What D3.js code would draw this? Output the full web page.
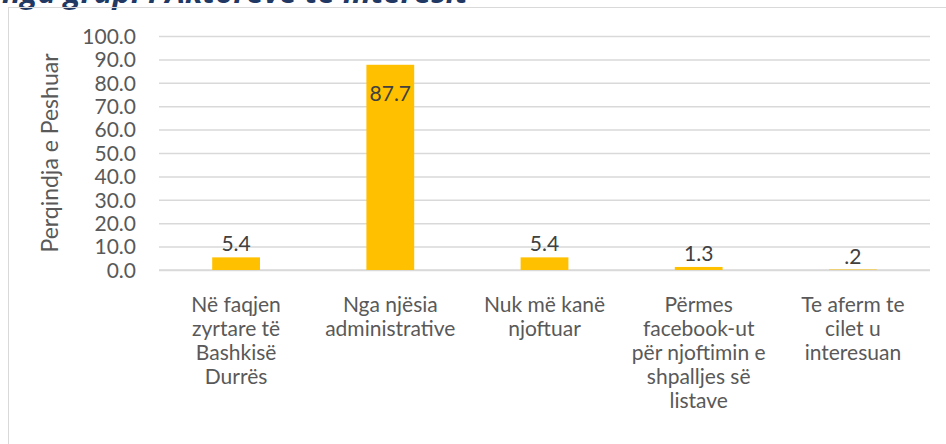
<!DOCTYPE html>
<html>
<head>
<meta charset="UTF-8">
<title></title>
<script src="https://cdn.jsdelivr.net/npm/d3@7"></script>
<style>
	body { margin: 0; background: #fff; }
	svg text { font-family: Lato, "Open Sans", sans-serif; }
</style>
</head>
<body>
<div id="chart"></div>
<script>
// te dhenat
var categories = [
	["Në faqjen", "zyrtare të", "Bashkisë", "Durrës"],
	["Nga njësia", "administrative"],
	["Nuk më kanë", "njoftuar"],
	["Përmes", "facebook-ut", "për njoftimin e", "shpalljes së", "listave"],
	["Te aferm te", "cilet u", "interesuan"]
];
var values = [5.4, 87.7, 5.4, 1.3, 0.2];
var valueLabels = ["5.4", "87.7", "5.4", "1.3", ".2"];
var yTicks = [0, 10, 20, 30, 40, 50, 60, 70, 80, 90, 100];
var yTitle = "Perqindja e Peshuar";
var chartTitle = "nga grupi i Aktorëve të interesit";

var width = 946, height = 444;
var plot = {left: 159, right: 930, top: 36, bottom: 270};

var svg = d3.select("#chart").append("svg")
	.attr("width", width)
	.attr("height", height);

// titulli i prere lart
svg.append("text")
	.attr("x", 2)
	.attr("y", 3)
	.attr("fill", "#1F3864")
	.attr("font-size", "31px")
	.attr("font-weight", "bold")
	.attr("font-style", "italic")
	.style("font-family", "'Open Sans', sans-serif")
	.text(chartTitle);

// korniza
svg.append("rect")
	.attr("x", 8.5)
	.attr("y", 7.5)
	.attr("width", 960)
	.attr("height", 460)
	.attr("fill", "none")
	.attr("stroke", "#d9d9d9")
	.attr("stroke-width", 1);

var x = d3.scaleBand()
	.domain(d3.range(values.length))
	.range([plot.left, plot.right])
	.paddingInner(0.69)
	.paddingOuter(0.345);

var y = d3.scaleLinear()
	.domain([0, 100])
	.range([plot.bottom, plot.top]);

// vijat e rrjetit
var yAxis = d3.axisLeft(y)
	.tickValues(yTicks)
	.tickSize(-(plot.right - plot.left))
	.tickPadding(23)
	.tickFormat(d3.format(".1f"));

var gy = svg.append("g")
	.attr("transform", "translate(" + plot.left + ",0)")
	.call(yAxis);
gy.select(".domain").remove();
gy.selectAll(".tick line")
	.attr("stroke", "#d9d9d9")
	.attr("stroke-width", 1.5);
gy.selectAll(".tick text")
	.attr("fill", "#595959")
	.attr("font-size", "21px")
	.attr("dy", "0.35em");

// boshti x
svg.append("line")
	.attr("x1", plot.left)
	.attr("x2", plot.right)
	.attr("y1", y(0))
	.attr("y2", y(0))
	.attr("stroke", "#d9d9d9")
	.attr("stroke-width", 1.5);

// shtyllat
svg.selectAll("rect.bar")
	.data(values)
	.enter()
	.append("rect")
	.attr("class", "bar")
	.attr("x", function(d, i){ return x(i); })
	.attr("y", function(d){ return y(d); })
	.attr("width", x.bandwidth())
	.attr("height", function(d){ return y(0) - y(d); })
	.attr("fill", "#FFC000");

// etiketat e vlerave
svg.selectAll("text.val")
	.data(values)
	.enter()
	.append("text")
	.attr("class", "val")
	.attr("x", function(d, i){ return x(i) + x.bandwidth() / 2; })
	.attr("y", function(d){
		return d > 50 ? y(d) + 36 : y(d) - 6;
	})
	.attr("text-anchor", "middle")
	.attr("fill", "#404040")
	.attr("font-size", "21px")
	.text(function(d, i){ return valueLabels[i]; });

// emrat e kategorive
var cat = svg.selectAll("text.cat")
	.data(categories)
	.enter()
	.append("text")
	.attr("class", "cat")
	.attr("text-anchor", "middle")
	.attr("fill", "#595959")
	.attr("font-size", "21px");
cat.selectAll("tspan")
	.data(function(d, i){ return d.map(function(s){ return {s: s, i: i}; }); })
	.enter()
	.append("tspan")
	.attr("x", function(d){ return x(d.i) + x.bandwidth() / 2; })
	.attr("y", function(d, j){ return 312 + j * 24; })
	.text(function(d){ return d.s; });

// titulli i boshtit y
svg.append("text")
	.attr("transform", "translate(58," + ((plot.top + plot.bottom) / 2) + ") rotate(-90)")
	.attr("text-anchor", "middle")
	.attr("fill", "#595959")
	.attr("font-size", "23px")
	.text(yTitle);
</script>
</body>
</html>
